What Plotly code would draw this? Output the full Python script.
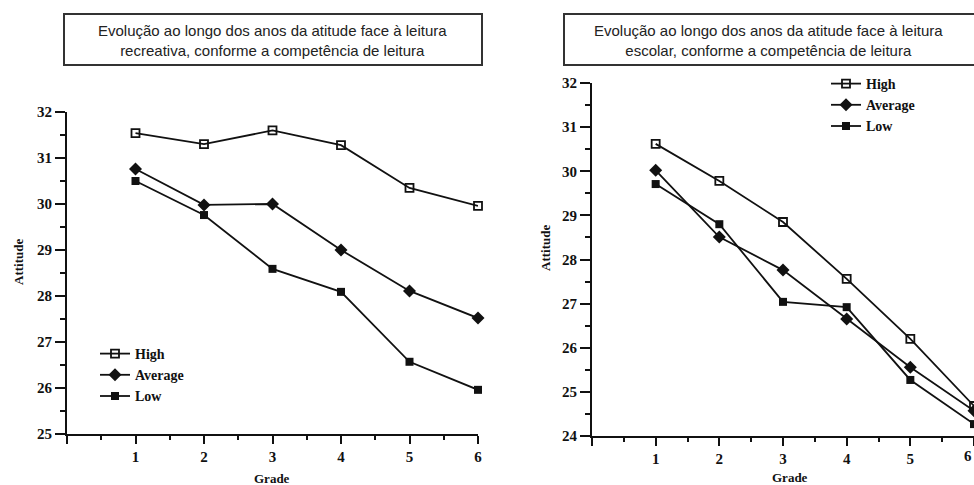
import plotly.graph_objects as go

# Grade levels (x) and mean attitude scores per reading-competence group
grades = [1, 2, 3, 4, 5, 6]

rec_high = [31.54, 31.30, 31.60, 31.28, 30.35, 29.96]
rec_average = [30.76, 29.98, 30.00, 29.00, 28.11, 27.52]
rec_low = [30.50, 29.76, 28.59, 28.09, 26.57, 25.96]

acad_high = [30.62, 29.78, 28.85, 27.56, 26.20, 24.68]
acad_average = [30.02, 28.51, 27.76, 26.65, 25.56, 24.57]
acad_low = [29.71, 28.80, 27.04, 26.92, 25.27, 24.27]

group_names = ["High", "Average", "Low"]
titles = [
    "Evolução ao longo dos anos da atitude face à leitura<br>recreativa, conforme a competência de leitura",
    "Evolução ao longo dos anos da atitude face à leitura<br>escolar, conforme a competência de leitura",
]
x_tick_vals = [0, 1, 2, 3, 4, 5, 6]
x_tick_text = ["", "1", "2", "3", "4", "5", "6"]

W, H = 974, 485


def px_x(p):
    return p / W


def px_y(p):
    return 1 - p / H


INK = "#111111"
marker_styles = [
    dict(symbol="square-open", size=8, color=INK, line=dict(width=1.8, color=INK)),
    dict(symbol="diamond", size=10, color=INK),
    dict(symbol="square", size=8, color=INK),
]

fig = go.Figure()

panels = [
    ([rec_high, rec_average, rec_low], "x", "y", "legend"),
    ([acad_high, acad_average, acad_low], "x2", "y2", "legend2"),
]
for series, xa, ya, lg in panels:
    for name, vals, mk in zip(group_names, series, marker_styles):
        fig.add_trace(go.Scatter(
            x=grades, y=vals, name=name, mode="lines+markers",
            line=dict(color=INK, width=1.8), marker=mk,
            xaxis=xa, yaxis=ya, legend=lg, cliponaxis=False,
        ))

tick_font = dict(family="Liberation Serif", size=15, color=INK, weight="bold")
common_x = dict(
    range=[0, 6], tickvals=x_tick_vals, ticktext=x_tick_text,
    showline=True, linecolor=INK, linewidth=2, ticks="outside",
    ticklen=8, tickwidth=2, tickcolor=INK, tickfont=tick_font,
    minor=dict(ticks="outside", dtick=0.5, tick0=0, ticklen=4, tickwidth=1.5, tickcolor=INK),
    showgrid=False, zeroline=False, automargin=False, fixedrange=True,
)
common_y = dict(
    dtick=1, showline=True, linecolor=INK, linewidth=2, ticks="outside",
    ticklen=10, tickwidth=2, tickcolor=INK, tickfont=tick_font,
    minor=dict(ticks="outside", dtick=0.5, ticklen=5, tickwidth=1.5, tickcolor=INK),
    showgrid=False, zeroline=False, automargin=False, fixedrange=True,
)

fig.update_layout(
    width=W, height=H,
    margin=dict(l=0, r=0, t=0, b=0),
    paper_bgcolor="white", plot_bgcolor="white",
    showlegend=True,
    xaxis=dict(domain=[px_x(67), px_x(478)], anchor="y", **common_x),
    yaxis=dict(domain=[px_y(434), px_y(112)], anchor="x", range=[25, 32], **common_y),
    xaxis2=dict(domain=[px_x(592), 1.0], anchor="y2", **common_x),
    yaxis2=dict(domain=[px_y(436), px_y(83)], anchor="x2", range=[24, 32], **common_y),
    legend=dict(
        x=px_x(95), y=px_y(338), xanchor="left", yanchor="top",
        font=dict(family="Liberation Serif", size=14, color=INK, weight="bold"),
        bgcolor="rgba(0,0,0,0)", itemclick=False, tracegroupgap=0,
    ),
    legend2=dict(
        x=px_x(826), y=px_y(68), xanchor="left", yanchor="top",
        font=dict(family="Liberation Serif", size=14, color=INK, weight="bold"),
        bgcolor="rgba(0,0,0,0)", itemclick=False, tracegroupgap=0,
    ),
)

# Title boxes above each panel
boxes = [(64, 482), (564, 976)]
for (x0, x1), t in zip(boxes, titles):
    fig.add_shape(type="rect", xref="paper", yref="paper",
                  x0=px_x(x0), x1=px_x(x1), y0=px_y(65), y1=px_y(14),
                  line=dict(color="#333333", width=2), fillcolor="white", layer="below")

title_font = dict(family="Liberation Sans", size=15, color="#222222")
for xc, t in zip([272, 768], titles):
    fig.add_annotation(text=t, x=px_x(xc), y=px_y(40), xref="paper", yref="paper",
                       xanchor="center", yanchor="middle", showarrow=False, font=title_font)

# Axis titles
label_font = dict(family="Liberation Serif", size=13, color=INK, weight="bold")
for xp, yp in [(18, 262), (546, 248)]:
    fig.add_annotation(text="Attitude", x=px_x(xp), y=px_y(yp), xref="paper", yref="paper",
                       xanchor="center", yanchor="middle",
                       showarrow=False, textangle=-90, font=label_font)
for xp, yp in [(272, 478), (790, 477)]:
    fig.add_annotation(text="Grade", x=px_x(xp), y=px_y(yp), xref="paper", yref="paper",
                       xanchor="center", yanchor="middle", showarrow=False, font=label_font)

# Last grade label on the right panel, kept inside the page edge
fig.add_annotation(text="6", x=6, y=24, xref="x2", yref="y2", yshift=-20,
                   xanchor="right", yanchor="middle", showarrow=False, font=tick_font)

fig.write_html("out.html")
